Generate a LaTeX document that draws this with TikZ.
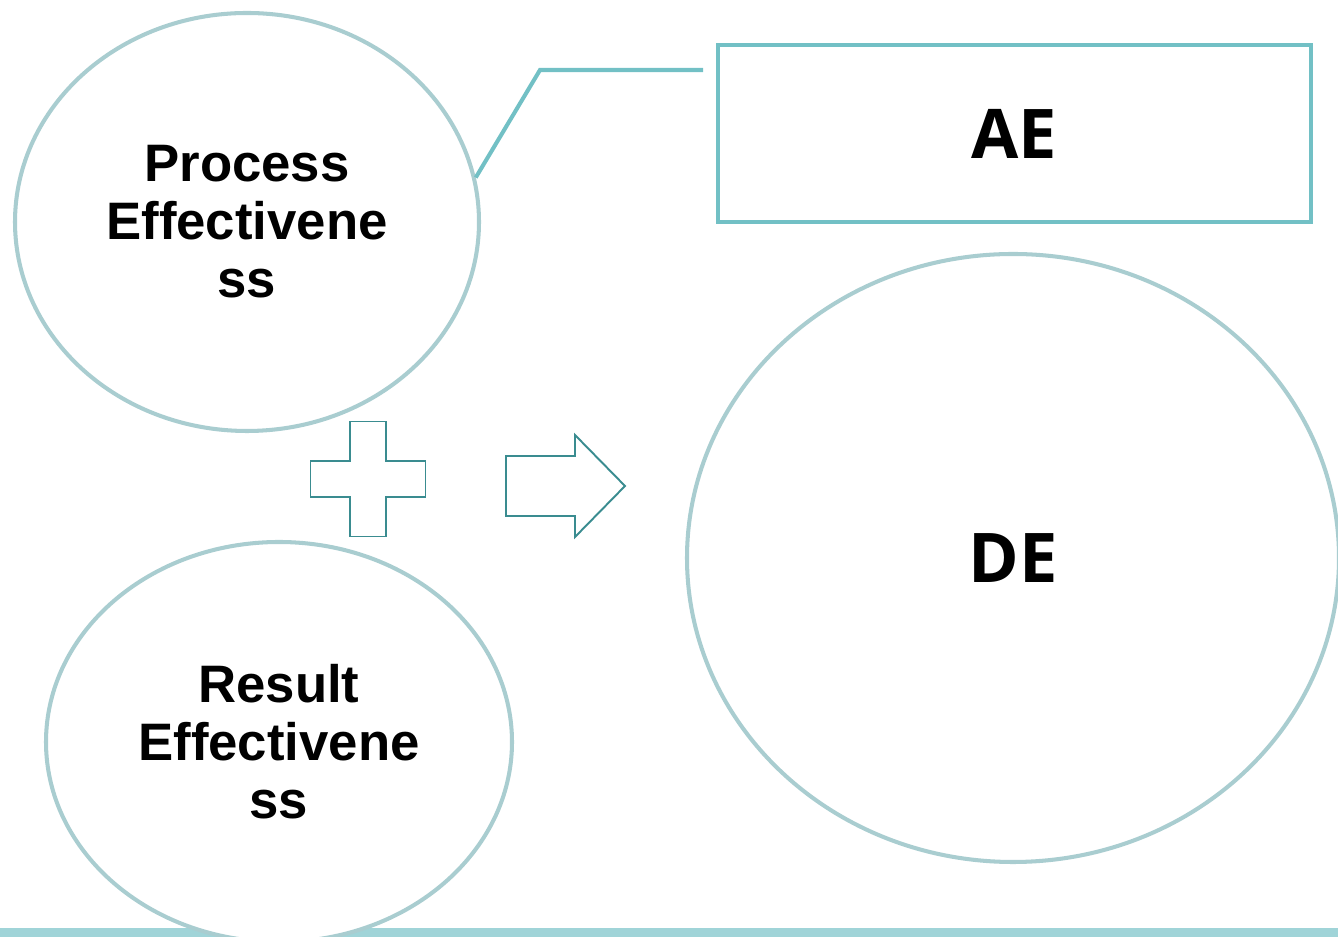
\documentclass[tikz,border=0pt]{standalone}
\usepackage{fontspec}
\setmainfont{Liberation Sans}
\newfontfamily\markfont{Open Sans}
\usetikzlibrary{shapes.geometric}
\definecolor{ringgray}{HTML}{A9CDD0}
\definecolor{boxteal}{HTML}{72C0C5}
\definecolor{signteal}{HTML}{3A8C90}
\definecolor{bandteal}{HTML}{A0D4D8}
\tikzset{
	ring/.style={ellipse,draw=ringgray,line width=2.3pt,fill=white,inner sep=0pt,align=center,font=\fontsize{30}{33}\selectfont\bfseries},
	mark label/.style={font=\markfont\fontsize{39}{42}\selectfont\bfseries},
	sign/.style={draw=signteal,line width=1.1pt,fill=white},
}
\begin{document}
	\begin{tikzpicture}
		\useasboundingbox (0,0) rectangle (26.76,18.74);
		% bottom band
		\fill[bandteal] (0,0) rectangle (26.76,0.18);
		% effectiveness ellipses
		\node[ring,minimum width=9.28cm,minimum height=8.36cm] (proc) at (4.94,14.3) {Process\\Effectivene\\ss};
		\node[ring,minimum width=9.32cm,minimum height=8.0cm] (result) at (5.58,3.9) {Result\\Effectivene\\ss};
		\node[ring,minimum width=13.04cm,minimum height=12.16cm,mark label] (de) at (20.26,7.58) {DE};
		% AE box and callout
		\node[draw=boxteal,line width=2.3pt,minimum width=11.86cm,minimum height=3.54cm,mark label] (ae) at (20.29,16.07) {AE};
		\coordinate (bend) at (10.8,17.34);
		\coordinate (calloutend) at (14.06,17.34);
		\draw[boxteal,line width=2.3pt] (proc.11) -- (bend) -- (calloutend);
		% plus sign
		\begin{scope}[shift={(7.36,9.16)}]
			\draw[sign] (-0.36,1.15) -- (0.36,1.15) -- (0.36,0.36) -- (1.15,0.36) -- (1.15,-0.36) -- (0.36,-0.36) -- (0.36,-1.15) -- (-0.36,-1.15) -- (-0.36,-0.36) -- (-1.15,-0.36) -- (-1.15,0.36) -- (-0.36,0.36) -- cycle;
		\end{scope}
		% block arrow
		\draw[sign] (10.12,9.62) -- (11.5,9.62) -- (11.5,10.04) -- (12.5,9.02) -- (11.5,8.0) -- (11.5,8.42) -- (10.12,8.42) -- cycle;
	\end{tikzpicture}
\end{document}
